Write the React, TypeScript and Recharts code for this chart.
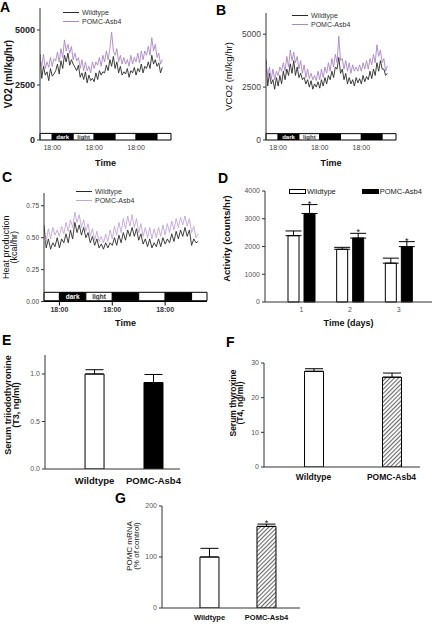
import React from 'react'
import {
  LineChart,
  Line,
  BarChart,
  Bar,
  Cell,
  XAxis,
  YAxis,
  ErrorBar,
  Legend,
  ReferenceArea,
  LabelList,
} from 'recharts'

const FONT = '"Liberation Sans", Arial, sans-serif'

// hourly readings from the start of the recording (hour = index)
const vo2Wildtype = [
  3900, 2800, 3350, 2950, 3100, 2700, 3250, 2900, 3000, 3150, 3450, 3000, 3600, 3250, 3850, 3550,
  3950, 3400, 3650, 3450, 3300, 3150, 3400, 2850, 3050, 2750, 3100, 2600, 2950, 2700, 2800, 2650,
  3050, 2750, 3150, 2950, 3100, 3050, 3400, 3150, 3650, 3350, 3800, 3250, 3550, 3050, 3350, 2950,
  3100, 3000, 3250, 2850, 3150, 3050, 3300, 2950, 3250, 3100, 3450, 3050, 3350, 3250, 3550, 3250,
  3850, 3450, 3650, 3350, 3500, 3050, 3300,
]
const vo2PomcAsb4 = [
  3750, 3350, 3900, 3250, 3550, 3300, 3750, 3350, 3700, 3600, 4000, 3550, 4150, 3750, 4550, 4050,
  4350, 3950, 4250, 3650, 3950, 3600, 3750, 3250, 3650, 3150, 3550, 3150, 3350, 3050, 3550, 3250,
  3550, 3400, 3750, 3350, 3850, 3550, 4050, 3650, 4150, 4900, 4050, 3850, 4150, 3550, 3850, 3450,
  3750, 3450, 3650, 3350, 3850, 3450, 3750, 3550, 3950, 3500, 4050, 3650, 4050, 3850, 4250, 3850,
  4650, 4050, 4350, 3750, 3950, 3450, 3650,
]
const vco2Wildtype = [
  3800, 2550, 3150, 2650, 2850, 2400, 2950, 2550, 3050, 2650, 3250, 2850, 3350, 3050, 3600, 3150,
  3750, 3050, 3450, 2950, 3150, 2850, 2950, 2650, 2850, 2500, 2800, 2400, 2650, 2500, 2750, 2450,
  2850, 2550, 2950, 2650, 3050, 2850, 3250, 2950, 3450, 3350, 3900, 3150, 3350, 2850, 3150, 2650,
  2950, 2650, 2850, 2550, 2950, 2700, 2900, 2650, 3050, 2750, 3000, 2850, 3250, 2900, 3350, 3050,
  3650, 3250, 3750, 3350, 3350, 3050, 3150,
]
const vco2PomcAsb4 = [
  3600, 2950, 3450, 2850, 3350, 2850, 3250, 3050, 3450, 3250, 3650, 3250, 3950, 3450, 4250, 3750,
  4150, 3650, 3950, 3350, 3750, 3150, 3550, 2950, 3350, 2900, 3150, 2850, 3050, 2800, 3250, 2850,
  3350, 2950, 3450, 3150, 3650, 3250, 3850, 3450, 4050, 3650, 4900, 3750, 3850, 3350, 3750, 3250,
  3650, 3150, 3550, 3250, 3450, 3250, 3550, 3250, 3650, 3350, 3750, 3350, 3850, 3550, 4050, 3650,
  4500, 3950, 4250, 3650, 3850, 3250, 3500,
]
const heatWildtype = [
  0.6, 0.42, 0.49, 0.41, 0.46, 0.43, 0.5, 0.42, 0.49, 0.46, 0.53, 0.46, 0.56, 0.49, 0.62, 0.54,
  0.6, 0.52, 0.58, 0.5, 0.54, 0.46, 0.51, 0.44, 0.49, 0.42, 0.45, 0.41, 0.46, 0.42, 0.46, 0.44,
  0.5, 0.44, 0.52, 0.46, 0.54, 0.48, 0.56, 0.51, 0.58, 0.51, 0.57, 0.48, 0.53, 0.45, 0.49, 0.43,
  0.49, 0.42, 0.46, 0.43, 0.49, 0.43, 0.5, 0.45, 0.49, 0.46, 0.53, 0.47, 0.55, 0.49, 0.56, 0.51,
  0.58, 0.51, 0.56, 0.44, 0.49, 0.46, 0.47,
]
const heatPomcAsb4 = [
  0.52, 0.47, 0.57, 0.49, 0.58, 0.52, 0.56, 0.51, 0.59, 0.53, 0.62, 0.55, 0.64, 0.58, 0.7, 0.62,
  0.68, 0.58, 0.64, 0.55, 0.61, 0.51, 0.57, 0.48, 0.55, 0.47, 0.51, 0.46, 0.53, 0.47, 0.56, 0.49,
  0.59, 0.52, 0.62, 0.54, 0.65, 0.57, 0.67, 0.59, 0.68, 0.58, 0.65, 0.54, 0.61, 0.51, 0.58, 0.5,
  0.58, 0.49, 0.57, 0.5, 0.58, 0.51, 0.6, 0.52, 0.61, 0.54, 0.63, 0.56, 0.65, 0.58, 0.66, 0.6,
  0.67, 0.59, 0.65, 0.54, 0.59, 0.5, 0.53,
]

// light / dark cycle (hours)
const clockTicks = [7, 31, 55]
const phaseStart = [0, 7, 19, 31, 43, 55, 67]
const phaseEnd = [7, 19, 31, 43, 55, 67, 75]
const phaseDark = [false, true, false, true, false, true, false]
const phaseText = ['', 'dark', 'light', '', '', '', '']

// activity per day
const activityDays = ['1', '2', '3']
const activityWildtype = [2390, 1900, 1400]
const activityWildtypeSem = [170, 70, 180]
const activityPomc = [3190, 2305, 1995]
const activityPomcSem = [320, 170, 180]
const activitySig = [true, true, true]

// hormones and mRNA
const genotypes = ['Wildtype', 'POMC-Asb4']
const t3Mean = [1.0, 0.91]
const t3Sem = [0.045, 0.085]
const t4Mean = [27.6, 25.9]
const t4Sem = [0.75, 1.2]
const mrnaMean = [100, 160]
const mrnaSem = [17, 4.5]
const mrnaSig = [false, true]

const BLACK_LINE = '#2a2a2a'
const PURPLE = '#ac86c6'
const PURPLE_LIGHT = '#c3a5d8'

const rowsOf = (a: number[], b: number[]) => a.map((v, h) => ({ h, wt: v, tg: b[h] }))
const vo2Rows = rowsOf(vo2Wildtype, vo2PomcAsb4)
const vco2Rows = rowsOf(vco2Wildtype, vco2PomcAsb4)
const heatRows = rowsOf(heatWildtype, heatPomcAsb4)

const activityRows = activityDays.map((d, i) => ({
  i,
  day: d,
  wt: activityWildtype[i],
  wtErr: [0, activityWildtypeSem[i]],
  tg: activityPomc[i],
  tgErr: [0, activityPomcSem[i]],
}))

const groupRows = (mean: number[], sem: number[]) =>
  mean.map((m, i) => ({ i, x: i, v: m, err: [0, sem[i]] }))

const t3Rows = groupRows(t3Mean, t3Sem)
const t4Rows = groupRows(t4Mean, t4Sem)
const mrnaRows = groupRows(mrnaMean, mrnaSem)

// legend entries in genotype order (recharts sorts them by name otherwise)
const byGenotype = (payload: any[] = []) =>
  [...payload].sort((a, b) => genotypes.indexOf(a.value) - genotypes.indexOf(b.value))

function yTitle(lines: string[], cx: number, size: number, bold: boolean, gap = 9, shift = 0) {
  return (props: any) => {
    const vb = props.viewBox
    const cy = vb.y + vb.height / 2 + shift
    return (
      <text
        transform={`rotate(-90 ${cx} ${cy})`}
        x={cx}
        y={cy}
        textAnchor="middle"
        fontSize={size}
        fontWeight={bold ? 'bold' : 'normal'}
        fill="#111"
      >
        {lines.map((l, k) => (
          <tspan key={k} x={cx} dy={k === 0 ? 0 : gap} dominantBaseline="central">
            {l}
          </tspan>
        ))}
      </text>
    )
  }
}

function starLabel(sem: number[], sig: boolean[], values: number[]) {
  return (props: any) => {
    const vb = props.viewBox ?? props
    const i = Number(props.value)
    if (!sig[i]) return null
    const semPx = (sem[i] * vb.height) / values[i]
    return (
      <text x={vb.x + vb.width / 2} y={vb.y - semPx + 2} textAnchor="middle" fontSize={9} fill="#111">
        *
      </text>
    )
  }
}

const LineKey = (props: any) => (
  <div style={{ fontSize: 7, color: '#333', lineHeight: '9px', whiteSpace: 'nowrap' }}>
    {byGenotype(props.payload).map((e: any) => (
      <div key={e.value} style={{ display: 'flex', alignItems: 'center', height: 9 }}>
        <svg width={16} height={3} style={{ marginRight: 3 }}>
          <line x1={0} y1={1.5} x2={16} y2={1.5} stroke={e.color} strokeWidth={1} />
        </svg>
        <span>{e.value}</span>
      </div>
    ))}
  </div>
)

const BoxKey = (props: any) => (
  <div style={{ display: 'flex', fontSize: 7.5, color: '#222', lineHeight: '9px', whiteSpace: 'nowrap' }}>
    {byGenotype(props.payload).map((e: any) => (
      <div key={e.value} style={{ display: 'flex', alignItems: 'center', marginRight: 26 }}>
        <svg width={17} height={6} style={{ marginRight: 1 }}>
          <rect x={0.5} y={0.5} width={16} height={4} fill={e.color} stroke="#000" strokeWidth={1} />
        </svg>
        <span>{e.value}</span>
      </div>
    ))}
  </div>
)

function phaseAreas(xMax: number, y1: number, y2: number, fontSize: number) {
  return phaseStart.map((s, i) => (
    <ReferenceArea
      key={i}
      x1={s}
      x2={Math.min(phaseEnd[i], xMax)}
      y1={y1}
      y2={y2}
      fill={phaseDark[i] ? '#000' : '#fff'}
      fillOpacity={1}
      stroke="#000"
      strokeWidth={1}
      label={
        phaseText[i]
          ? {
              value: phaseText[i],
              position: 'center',
              fill: phaseDark[i] ? '#fff' : '#333',
              fontSize,
              fontWeight: 'bold',
            }
          : undefined
      }
    />
  ))
}

interface TimePanelProps {
  rows: { h: number; wt: number; tg: number }[]
  left: number
  top: number
  width: number
  height: number
  margin: { top: number; right: number; left: number; bottom: number }
  yWidth: number
  xHeight: number
  xMax: number
  yDomain: [number, number]
  yTicks: number[]
  yFormat: (v: number) => string
  yTickFont: { fontSize: number; fontWeight: string; fill: string }
  title: (props: any) => React.ReactNode
  strip: [number, number]
  stripFont: number
  xTickFont: { fontSize: number; fontWeight: string; fill: string }
  xTickSize: number
  xTickMargin: number
  xAxisLine: boolean
  timeOffset: number
  legendPos: { top: number; left: number }
  purple: string
}

function TimePanel(p: TimePanelProps) {
  return (
    <div style={{ position: 'absolute', left: p.left, top: p.top }}>
      <LineChart width={p.width} height={p.height} data={p.rows} margin={p.margin}>
        <XAxis
          type="number"
          dataKey="h"
          domain={[0, p.xMax]}
          ticks={clockTicks}
          tickFormatter={() => '18:00'}
          height={p.xHeight}
          axisLine={p.xAxisLine ? { stroke: '#000' } : false}
          tickLine={p.xAxisLine ? { stroke: '#000' } : false}
          tickSize={p.xTickSize}
          tickMargin={p.xTickMargin}
          tick={p.xTickFont}
          allowDataOverflow
          label={{
            value: 'Time',
            position: 'insideBottom',
            offset: p.timeOffset,
            fontSize: 9,
            fontWeight: 'bold',
            fill: '#111',
          }}
        />
        <YAxis
          type="number"
          domain={p.yDomain}
          ticks={p.yTicks}
          tickFormatter={p.yFormat}
          width={p.yWidth}
          axisLine={{ stroke: '#333' }}
          tickLine={{ stroke: '#333' }}
          tickSize={3}
          tickMargin={2}
          tick={p.yTickFont}
          allowDataOverflow
          label={p.title}
        />
        {phaseAreas(p.xMax, p.strip[0], p.strip[1], p.stripFont)}
        <Line
          type="linear"
          dataKey="wt"
          name="Wildtype"
          stroke={BLACK_LINE}
          strokeWidth={0.9}
          dot={false}
          isAnimationActive={false}
        />
        <Line
          type="linear"
          dataKey="tg"
          name="POMC-Asb4"
          stroke={p.purple}
          strokeWidth={0.9}
          dot={false}
          isAnimationActive={false}
        />
        <Legend
          layout="vertical"
          align="center"
          verticalAlign="middle"
          content={LineKey}
          wrapperStyle={{ top: p.legendPos.top, left: p.legendPos.left, width: 110, bottom: 'auto' }}
        />
      </LineChart>
    </div>
  )
}

interface GroupPanelProps {
  rows: { i: number; x: number; v: number; err: number[] }[]
  left: number
  top: number
  width: number
  height: number
  margin: { top: number; right: number; left: number; bottom: number }
  yWidth: number
  xHeight: number
  xDomain: [number, number]
  yDomain: [number, number]
  yTicks: number[]
  yFormat: (v: number) => string
  title: (props: any) => React.ReactNode
  fills: string[]
  hatchId: string
  groupFont: { fontSize: number; fontWeight: string; fill: string }
  groupMargin: number
  capWidth: number
  sem: number[]
  sig: boolean[]
  mean: number[]
}

function GroupPanel(p: GroupPanelProps) {
  return (
    <div style={{ position: 'absolute', left: p.left, top: p.top }}>
      <BarChart width={p.width} height={p.height} data={p.rows} margin={p.margin}>
        <defs>
          <pattern
            id={p.hatchId}
            patternUnits="userSpaceOnUse"
            width={3}
            height={3}
            patternTransform="rotate(45)"
          >
            <rect width={3} height={3} fill="#fff" />
            <line x1={0.5} y1={0} x2={0.5} y2={3} stroke="#6a6a6a" strokeWidth={1.2} />
          </pattern>
        </defs>
        <XAxis
          type="number"
          dataKey="x"
          domain={p.xDomain}
          ticks={[0, 1]}
          tickFormatter={(v: number) => genotypes[v] ?? ''}
          height={p.xHeight}
          axisLine={{ stroke: '#333' }}
          tickLine={false}
          tickSize={0}
          tickMargin={p.groupMargin}
          tick={p.groupFont}
          allowDataOverflow
        />
        <YAxis
          type="number"
          domain={p.yDomain}
          ticks={p.yTicks}
          tickFormatter={p.yFormat}
          width={p.yWidth}
          axisLine={{ stroke: '#333' }}
          tickLine={{ stroke: '#333' }}
          tickSize={3}
          tickMargin={2}
          tick={{ fontSize: 7, fill: '#555' }}
          allowDataOverflow
          label={p.title}
        />
        <Bar dataKey="v" barSize={19} stroke="#000" strokeWidth={1} isAnimationActive={false}>
          {p.rows.map((r) => (
            <Cell key={r.i} fill={p.fills[r.i] === 'hatch' ? `url(#${p.hatchId})` : p.fills[r.i]} />
          ))}
          <ErrorBar dataKey="err" width={p.capWidth} stroke="#000" strokeWidth={1} direction="y" />
          <LabelList dataKey="i" content={starLabel(p.sem, p.sig, p.mean)} />
        </Bar>
      </BarChart>
    </div>
  )
}

const letterStyle: React.CSSProperties = {
  position: 'absolute',
  fontFamily: FONT,
  fontWeight: 'bold',
  fontSize: 14,
  lineHeight: '14px',
  color: '#000',
}

export default function App() {
  return (
    <div
      style={{
        position: 'absolute',
        left: 0,
        top: 0,
        width: 432,
        height: 625,
        background: '#fff',
        fontFamily: FONT,
        overflow: 'hidden',
      }}
    >
      <TimePanel
        rows={vo2Rows}
        left={0}
        top={0}
        width={216}
        height={170}
        margin={{ top: 8, right: 45, left: 0, bottom: 0 }}
        yWidth={40}
        xHeight={30}
        xMax={75}
        yDomain={[0, 6000]}
        yTicks={[0, 2500, 5000]}
        yFormat={(v) => String(v)}
        yTickFont={{ fontSize: 9, fontWeight: 'bold', fill: '#222' }}
        title={yTitle(['VO2 (ml/kg/hr)'], 8.5, 10, true)}
        strip={[0, 300]}
        stripFont={6}
        xTickFont={{ fontSize: 7, fontWeight: 'normal', fill: '#444' }}
        xTickSize={2}
        xTickMargin={3}
        xAxisLine={false}
        timeOffset={4}
        legendPos={{ top: 8, left: 63 }}
        purple={PURPLE}
      />
      <TimePanel
        rows={vco2Rows}
        left={216}
        top={0}
        width={216}
        height={170}
        margin={{ top: 13, right: 36, left: 0, bottom: 0 }}
        yWidth={50}
        xHeight={30}
        xMax={75}
        yDomain={[0, 6000]}
        yTicks={[0, 2500, 5000]}
        yFormat={(v) => String(v)}
        yTickFont={{ fontSize: 8.5, fontWeight: 'normal', fill: '#444' }}
        title={yTitle(['VCO2 (ml/kg/hr)'], 12, 9.5, false)}
        strip={[0, 300]}
        stripFont={6}
        xTickFont={{ fontSize: 7, fontWeight: 'normal', fill: '#444' }}
        xTickSize={2}
        xTickMargin={3}
        xAxisLine={false}
        timeOffset={4}
        legendPos={{ top: 10.5, left: 76 }}
        purple={PURPLE}
      />
      <TimePanel
        rows={heatRows}
        left={0}
        top={170}
        width={216}
        height={165}
        margin={{ top: 23, right: 9, left: 0, bottom: 0 }}
        yWidth={44}
        xHeight={33.5}
        xMax={74}
        yDomain={[0, 0.85]}
        yTicks={[0, 0.25, 0.5, 0.75]}
        yFormat={(v) => v.toFixed(2)}
        yTickFont={{ fontSize: 6.5, fontWeight: 'normal', fill: '#444' }}
        title={yTitle(['Heat production', '(kcal/hr)'], 5.5, 9, false, 8, 0)}
        strip={[0.006, 0.072]}
        stripFont={6.5}
        xTickFont={{ fontSize: 7, fontWeight: 'bold', fill: '#333' }}
        xTickSize={4}
        xTickMargin={1.5}
        xAxisLine={true}
        timeOffset={9.5}
        legendPos={{ top: 17, left: 76 }}
        purple={PURPLE_LIGHT}
      />

      <div style={{ position: 'absolute', left: 216, top: 170 }}>
        <BarChart
          width={216}
          height={165}
          data={activityRows}
          margin={{ top: 21, right: 0, left: 0, bottom: 0 }}
          barSize={11}
          barGap={5}
        >
          <XAxis
            dataKey="day"
            padding={{ left: 12, right: 9 }}
            height={33}
            axisLine={{ stroke: '#333' }}
            tickLine={false}
            tickSize={3}
            tickMargin={2}
            tick={{ fontSize: 7, fill: '#555' }}
            label={{
              value: 'Time (days)',
              position: 'insideBottom',
              offset: 9.5,
              fontSize: 9,
              fontWeight: 'bold',
              fill: '#111',
            }}
          />
          <YAxis
            type="number"
            domain={[0, 4000]}
            ticks={[0, 1000, 2000, 3000, 4000]}
            width={49}
            axisLine={{ stroke: '#333' }}
            tickLine={{ stroke: '#333' }}
            tickSize={3}
            tickMargin={2}
            tick={{ fontSize: 7, fill: '#555' }}
            label={yTitle(['Activity (counts/hr)'], 10, 9.5, true, 9, -8)}
          />
          <Bar dataKey="wt" name="Wildtype" fill="#fff" stroke="#000" strokeWidth={1} isAnimationActive={false}>
            <ErrorBar dataKey="wtErr" width={8} stroke="#000" strokeWidth={1} direction="y" />
          </Bar>
          <Bar dataKey="tg" name="POMC-Asb4" fill="#000" stroke="#000" strokeWidth={1} isAnimationActive={false}>
            <ErrorBar dataKey="tgErr" width={8} stroke="#000" strokeWidth={1} direction="y" />
            <LabelList dataKey="i" content={starLabel(activityPomcSem, activitySig, activityPomc)} />
          </Bar>
          <Legend
            layout="vertical"
            align="center"
            verticalAlign="middle"
            content={BoxKey}
            wrapperStyle={{ top: 17, left: 73, width: 150, bottom: 'auto' }}
          />
        </BarChart>
      </div>

      <GroupPanel
        rows={t3Rows}
        left={0}
        top={335}
        width={216}
        height={165}
        margin={{ top: 20, right: 36, left: 0, bottom: 0 }}
        yWidth={45}
        xHeight={31}
        xDomain={[-0.84, 1.45]}
        yDomain={[0, 1.2]}
        yTicks={[0, 0.5, 1.0]}
        yFormat={(v) => v.toFixed(1)}
        title={yTitle(['Serum triiodothyronine', '(T3, ng/ml)'], 7.5, 9, true, 8.5, -7)}
        fills={['#fff', '#000']}
        hatchId="hatchT3"
        groupFont={{ fontSize: 9.5, fontWeight: 'bold', fill: '#111' }}
        groupMargin={8}
        capWidth={9}
        sem={t3Sem}
        sig={[false, false]}
        mean={t3Mean}
      />
      <GroupPanel
        rows={t4Rows}
        left={216}
        top={335}
        width={216}
        height={165}
        margin={{ top: 28, right: 12, left: 0, bottom: 0 }}
        yWidth={48}
        xHeight={33}
        xDomain={[-0.635, 1.365]}
        yDomain={[0, 30]}
        yTicks={[0, 10, 20, 30]}
        yFormat={(v) => String(v)}
        title={yTitle(['Serum thyroxine', '(T4, ng/ml)'], 16.5, 8.5, true, 7, -12)}
        fills={['#fff', 'hatch']}
        hatchId="hatchT4"
        groupFont={{ fontSize: 8.5, fontWeight: 'bold', fill: '#111' }}
        groupMargin={7}
        capWidth={9}
        sem={t4Sem}
        sig={[false, false]}
        mean={t4Mean}
      />
      <GroupPanel
        rows={mrnaRows}
        left={100}
        top={500}
        width={216}
        height={125}
        margin={{ top: 6, right: 16, left: 0, bottom: 0 }}
        yWidth={62}
        xHeight={17}
        xDomain={[-0.833, 1.588]}
        yDomain={[0, 200]}
        yTicks={[0, 100, 200]}
        yFormat={(v) => String(v)}
        title={yTitle(['POMC mRNA', '(% of control)'], 29.5, 8, false, 7, -11)}
        fills={['#fff', 'hatch']}
        hatchId="hatchMrna"
        groupFont={{ fontSize: 7.5, fontWeight: 'bold', fill: '#111' }}
        groupMargin={7}
        capWidth={9}
        sem={mrnaSem}
        sig={mrnaSig}
        mean={mrnaMean}
      />

      <div style={{ ...letterStyle, left: 0, top: 0 }}>A</div>
      <div style={{ ...letterStyle, left: 216, top: 3 }}>B</div>
      <div style={{ ...letterStyle, left: 2, top: 170 }}>C</div>
      <div style={{ ...letterStyle, left: 218, top: 171 }}>D</div>
      <div style={{ ...letterStyle, left: 2, top: 333 }}>E</div>
      <div style={{ ...letterStyle, left: 226, top: 335 }}>F</div>
      <div style={{ ...letterStyle, left: 115, top: 491 }}>G</div>
    </div>
  )
}
